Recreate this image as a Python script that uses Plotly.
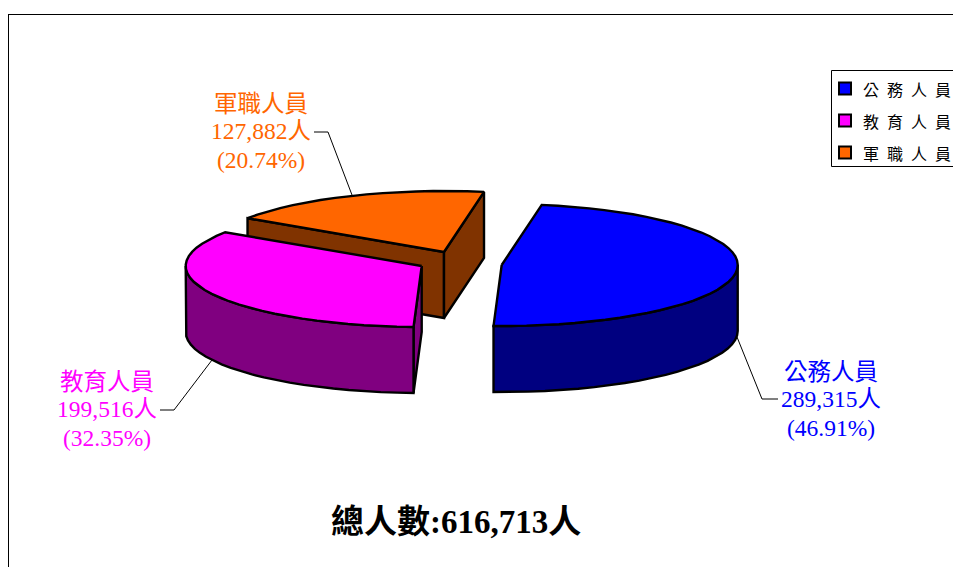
import numpy as np
import plotly.graph_objects as go

# Headcount by staff category
categories = ["公務人員", "教育人員", "軍職人員"]
headcounts = [289315, 199516, 127882]
percent_labels = ["46.91%", "32.35%", "20.74%"]
total_label = "總人數:616,713人"

top_colors = ["#0000FF", "#FF00FF", "#FF6600"]
side_colors = ["#000080", "#800080", "#803300"]
text_colors = ["#0000FF", "#FF00FF", "#FF6600"]

# Exploded slice centres and ellipse geometry, in page pixels
centres = [(501.7, 265), (421.7, 266), (444, 252)]
RX, RY, DEPTH = 236, 61, 66

# Label blocks and their leader lines
label_pos = [(830.5, 372), (106.5, 382), (260.5, 104)]
leader_x = [[737, 762, 778], [212, 174, 160], [352, 328, 314]]
leader_y = [[337, 399, 399], [360, 410, 410], [195, 132, 132]]

# Key panel rows
key_swatch_x = 845
key_text_x = 861
key_rows = [88.5, 120.5, 152.5]

SERIF = "Liberation Serif, Noto Sans CJK TC, serif"


def projected_angle(a):
    """Clockwise degrees from the pie's start, with the tilt's foreshortening."""
    r = np.radians(a)
    return a + 12.13 - 2.37 * np.cos(r) - 7.04 * np.sin(r)


def arc(cx, cy, start, end, dy=0.0):
    t = np.radians(np.linspace(start, end, max(3, int(abs(end - start) / 4) + 1)))
    return cx + RX * np.sin(t), cy + dy - RY * np.cos(t)


shares = np.array(headcounts) / sum(headcounts) * 360
bounds = np.concatenate([[0], np.cumsum(shares)])
slices = [(projected_angle(bounds[i]), projected_angle(bounds[i + 1])) for i in range(3)]

fig = go.Figure()


def polygon(xs, ys, fill):
    fig.add_trace(go.Scatter(
        x=list(xs) + [xs[0]], y=list(ys) + [ys[0]], mode="lines", fill="toself",
        fillcolor=fill, line=dict(color="black", width=2.4), showlegend=False,
        hoverinfo="skip",
    ))


def wall(cx, cy, angle, fill):
    """Cut face running from the slice centre out to the rim at the given angle."""
    px, py = arc(cx, cy, angle, angle)
    polygon([cx, px[0], px[0], cx], [cy, py[0], py[0] + DEPTH, cy + DEPTH], fill)


def rim(cx, cy, start, end, fill):
    """Outer curved face between two angles."""
    xt, yt = arc(cx, cy, start, end)
    xb, yb = arc(cx, cy, start, end, DEPTH)
    polygon(np.r_[xt, xb[::-1]], np.r_[yt, yb[::-1]], fill)


def top(cx, cy, start, end, fill):
    xt, yt = arc(cx, cy, start, end)
    polygon(np.r_[cx, xt], np.r_[cy, yt], fill)


# Back slice first so that the nearer ones overlap it
cx, cy = centres[2]
s, e = slices[2]
wall(cx, cy, s, side_colors[2])
wall(cx, cy, e, side_colors[2])
top(cx, cy, s, e, top_colors[2])

cx, cy = centres[1]
s, e = slices[1]
wall(cx, cy, s, side_colors[1])
rim(cx, cy, s, 270, side_colors[1])
top(cx, cy, s, e, top_colors[1])

cx, cy = centres[0]
s, e = slices[0]
rim(cx, cy, 90, e, side_colors[0])
top(cx, cy, s, e, top_colors[0])

# Leader lines
for lx, ly in zip(leader_x, leader_y):
    fig.add_trace(go.Scatter(x=lx, y=ly, mode="lines", line=dict(color="black", width=1),
                             showlegend=False, hoverinfo="skip"))

# Key panel: box running off the right page edge, swatches and names
fig.add_shape(type="rect", x0=831.5, y0=70.5, x1=975, y1=166.5,
              line=dict(color="black", width=1), fillcolor="white", layer="below")
fig.add_trace(go.Scatter(
    x=[key_swatch_x] * 3, y=key_rows, mode="markers", showlegend=False, hoverinfo="skip",
    marker=dict(symbol="square", size=12, color=top_colors, line=dict(color="black", width=2)),
))
for name, row in zip(categories, key_rows):
    fig.add_annotation(x=key_text_x, y=row + 1.5, text="\u2002".join(name), showarrow=False,
                       xanchor="left", yanchor="middle",
                       font=dict(family=SERIF, size=16, color="black"))

# Slice labels
for i, (lx, ly) in enumerate(label_pos):
    lines = [categories[i], f"{headcounts[i]:,}人", f"({percent_labels[i]})"]
    for text, offset in zip(lines, (0, 27, 56)):
        fig.add_annotation(x=lx, y=ly + offset, text=text, showarrow=False,
                           xanchor="center", yanchor="middle",
                           font=dict(family=SERIF, size=23.5, color=text_colors[i]))

fig.add_annotation(x=456, y=522, text=f"<b>{total_label}</b>", showarrow=False,
                   xanchor="center", yanchor="middle",
                   font=dict(family=SERIF, size=33, color="black"))

# Chart frame, open at the right and bottom page edges
fig.add_shape(type="line", x0=8, y0=14.5, x1=953, y1=14.5, line=dict(color="black", width=1), layer="below")
fig.add_shape(type="line", x0=8.5, y0=14, x1=8.5, y1=567, line=dict(color="black", width=1), layer="below")

fig.update_layout(
    width=953, height=567, margin=dict(l=0, r=0, t=0, b=0, autoexpand=False),
    paper_bgcolor="white", plot_bgcolor="white", showlegend=False,
    xaxis=dict(range=[0, 953], visible=False, fixedrange=True),
    yaxis=dict(range=[567, 0], visible=False, fixedrange=True),
)

fig.write_html("out.html", config={"displayModeBar": False})
